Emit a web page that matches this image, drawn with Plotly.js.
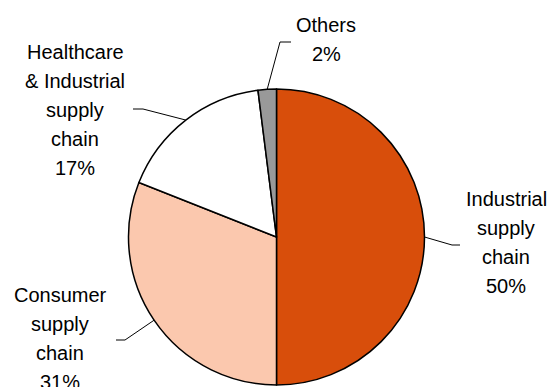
<!DOCTYPE html>
<html>
<head>
<meta charset="utf-8">
<script src="https://cdn.plot.ly/plotly-3.0.1.min.js"></script>
<style>html,body{margin:0;padding:0;background:#fff;}#chart{width:550px;height:387px;}</style>
</head>
<body>
<div id="chart"></div>
<script>
// Data
var categories = ['Industrial supply chain', 'Consumer supply chain', 'Healthcare & Industrial supply chain', 'Others'];
var shares = [50, 31, 17, 2];
var labelLines = [
  ['Industrial', 'supply', 'chain'],
  ['Consumer', 'supply', 'chain'],
  ['Healthcare', '& Industrial', 'supply', 'chain'],
  ['Others']
];
var sliceColors = ['#D84E0B', '#FBC8AE', '#FFFFFF', '#999999'];

// Layout helpers (pixel positions of the label blocks and leader line elbows)
var W = 550, H = 387;
var pieCx = 276.5, pieCy = 237, pieR = 148;
var labelPos = [
  {x: 506, y: 199, elbow: [452, 245], end: [460, 245]},
  {x: 60, y: 295, elbow: [125, 340], end: [116, 340]},
  {x: 75, y: 52, elbow: [143, 109], end: [133, 109]},
  {x: 326, y: 25, elbow: [280, 42], end: [291, 42]}
];
var lineStep = 29;

function px(x) { return x / W; }
function py(y) { return 1 - y / H; }

var total = shares.reduce(function (a, b) { return a + b; }, 0);
var annotations = [];
var shapes = [];
var cum = 0;
for (var i = 0; i < shares.length; i++) {
  var mid = (cum + shares[i] / 2) / total;
  cum += shares[i];
  var ang = mid * 2 * Math.PI;
  var ex = pieCx + pieR * Math.sin(ang);
  var ey = pieCy - pieR * Math.cos(ang);
  var lp = labelPos[i];
  var lines = labelLines[i].concat([Math.round(shares[i] / total * 100) + '%']);
  for (var j = 0; j < lines.length; j++) {
    annotations.push({
      xref: 'paper', yref: 'paper',
      x: px(lp.x), y: py(lp.y + j * lineStep),
      xanchor: 'center', yanchor: 'middle',
      text: lines[j], showarrow: false,
      font: {family: 'Liberation Sans, Arial, sans-serif', size: 20, color: '#000'}
    });
  }
  shapes.push({
    type: 'path', xref: 'paper', yref: 'paper',
    path: 'M ' + px(ex) + ' ' + py(ey) + ' L ' + px(lp.elbow[0]) + ' ' + py(lp.elbow[1]) +
          ' L ' + px(lp.end[0]) + ' ' + py(lp.end[1]),
    line: {color: '#000', width: 1}
  });
}

var trace = {
  type: 'pie',
  labels: categories,
  values: shares,
  sort: false,
  direction: 'clockwise',
  rotation: 0,
  textinfo: 'none',
  hoverinfo: 'label+percent',
  marker: {colors: sliceColors, line: {color: '#000', width: 1.5}},
  domain: {
    x: [px(pieCx - pieR), px(pieCx + pieR)],
    y: [py(pieCy + pieR), py(pieCy - pieR)]
  }
};

var layout = {
  width: W, height: H,
  margin: {l: 0, r: 0, t: 0, b: 0},
  showlegend: false,
  paper_bgcolor: '#fff',
  annotations: annotations,
  shapes: shapes
};

Plotly.newPlot('chart', [trace], layout, {displayModeBar: false, staticPlot: true});
</script>
</body>
</html>
